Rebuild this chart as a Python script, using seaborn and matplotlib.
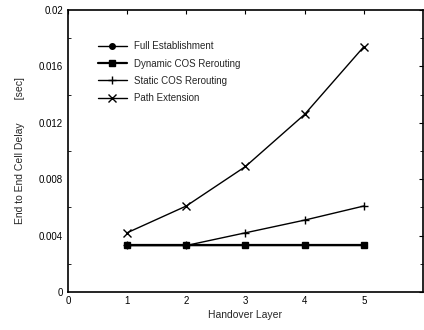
import matplotlib
matplotlib.use("Agg")
import matplotlib.pyplot as plt
import seaborn as sns
import pandas as pd
from matplotlib.ticker import MultipleLocator

sns.set_theme(style="white")
plt.rcParams['font.family'] = ['Liberation Sans', 'DejaVu Sans']

layers = [1, 2, 3, 4, 5]
full_establishment = [0.0033, 0.0033, 0.0033, 0.0033, 0.0033]
dynamic_cos = [0.0033, 0.0033, 0.0033, 0.0033, 0.0033]
static_cos = [0.0033, 0.0033, 0.0042, 0.0051, 0.0061]
path_extension = [0.0042, 0.0061, 0.0089, 0.0126, 0.0174]

series = [
    ("Full Establishment", full_establishment, "o", 1.0, 4),
    ("Dynamic COS Rerouting", dynamic_cos, "s", 1.6, 5),
    ("Static COS Rerouting", static_cos, "+", 1.0, 6),
    ("Path Extension", path_extension, "x", 1.0, 6),
]

fig = plt.figure(figsize=(4.24, 3.30), dpi=100)
ax = fig.add_axes([0.160, 0.115, 0.838, 0.855])

for name, vals, mk, lw, ms in series:
    df = pd.DataFrame({"layer": layers, "delay": vals})
    sns.lineplot(data=df, x="layer", y="delay", ax=ax, color="black",
                 marker=mk, markersize=ms, linewidth=lw, label=name,
                 markeredgecolor="black", markerfacecolor="black",
                 markeredgewidth=1.0)

ax.set_xlim(0, 6)
ax.set_ylim(0, 0.02)
ax.set_xticks([0, 1, 2, 3, 4, 5])
ax.set_xticklabels(["0", "1", "2", "3", "4", "5"])
ax.set_yticks([0, 0.004, 0.008, 0.012, 0.016, 0.02])
ax.set_yticklabels(["0", "0.004", "0.008", "0.012", "0.016", "0.02"])
ax.yaxis.set_minor_locator(MultipleLocator(0.002))
ax.tick_params(axis="both", which="both", direction="in", labelsize=7,
               colors="black", top=True, right=True)
ax.tick_params(axis="both", which="major", length=3, width=0.8)
ax.tick_params(axis="y", which="minor", length=2, width=0.6, left=True, right=True)
ax.tick_params(axis="x", which="major", pad=3)

for sp in ax.spines.values():
    sp.set_color("black")
    sp.set_linewidth(1.2)

ax.set_xlabel("Handover Layer", fontsize=7.5, labelpad=3)
ax.set_ylabel("End to End Cell Delay        [sec]", fontsize=7.5, labelpad=10)

leg = ax.legend(loc="upper left", bbox_to_anchor=(0.06, 0.92), frameon=False,
                fontsize=7, handlelength=3, labelspacing=0.75, handletextpad=0.7)

fig.savefig("out.png", dpi=100)
